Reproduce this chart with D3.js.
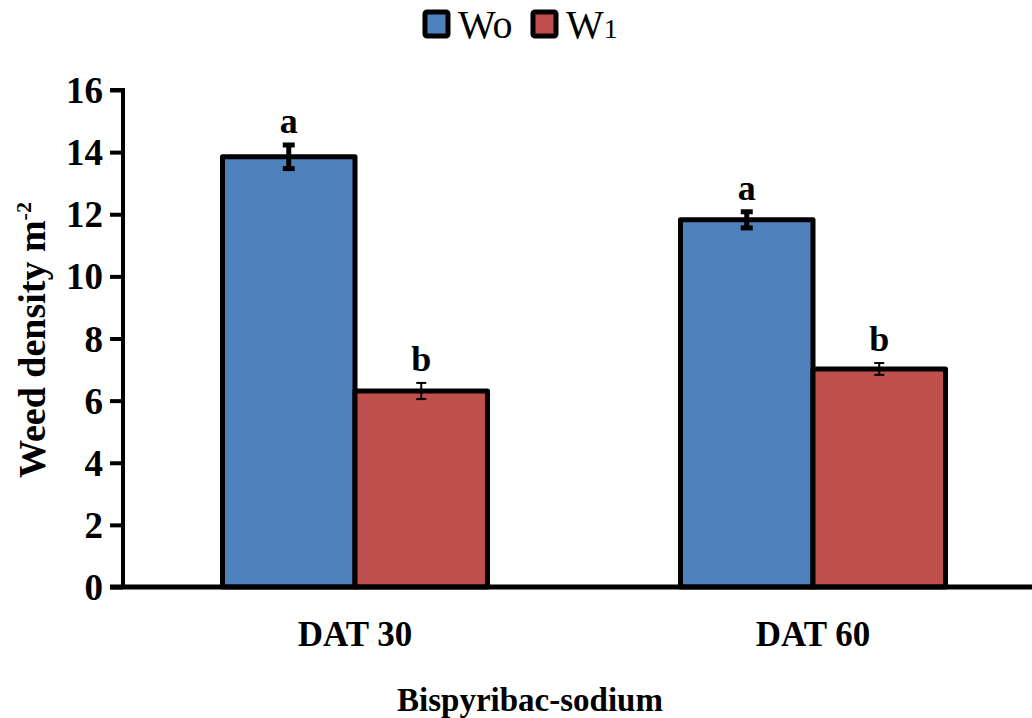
<!DOCTYPE html>
<html>
<head>
<meta charset="utf-8">
<script src="https://cdn.jsdelivr.net/npm/d3@7"></script>
<style>
  html, body { margin: 0; padding: 0; background: #fff; }
  svg { display: block; }
</style>
</head>
<body>
<svg id="chart" width="1032" height="718"></svg>
<script>
// Weed density per square metre under bispyribac-sodium, by days after transplanting
const categories = ["DAT 30", "DAT 60"];
const seriesNames = ["W0", "W1"];
const seriesLabels = [["W", "o"], ["W", "1"]];
const w0Values = [13.85, 11.82];
const w1Values = [6.31, 7.02];
const w0Errors = [0.38, 0.26];
const w1Errors = [0.26, 0.19];
const w0Letters = ["a", "a"];
const w1Letters = ["b", "b"];
const yTicks = [0, 2, 4, 6, 8, 10, 12, 14, 16];
const colors = ["#4f81bd", "#c0504d"];

const rows = categories.flatMap((c, i) => [
  { cat: c, s: seriesNames[0], v: w0Values[i], e: w0Errors[i], l: w0Letters[i], k: 0 },
  { cat: c, s: seriesNames[1], v: w1Values[i], e: w1Errors[i], l: w1Letters[i], k: 1 }
]);

const svg = d3.select("#chart");
const serif = "'Liberation Serif', 'Times New Roman', serif";

const x = d3.scaleBand().domain(categories).range([126, 1042]).paddingInner(0).paddingOuter(0);
const groupW = 265;
const xs = d3.scaleBand().domain(seriesNames).range([0, groupW]).padding(0);
const y = d3.scaleLinear().domain([0, 16]).range([587, 90]);

const barX = d => x(d.cat) + x.bandwidth() / 2 - groupW / 2 + xs(d.s);

// Bars
svg.append("g").selectAll("rect").data(rows).join("rect")
  .attr("x", d => barX(d))
  .attr("y", d => y(d.v))
  .attr("width", xs.bandwidth())
  .attr("height", d => y(0) - y(d.v))
  .attr("fill", d => colors[d.k])
  .attr("stroke", "#000")
  .attr("stroke-width", 5)
  .attr("stroke-linejoin", "round");

// Error bars
const eb = svg.append("g").selectAll("g").data(rows).join("g")
  .attr("stroke", "#000");
eb.append("line")
  .attr("x1", d => barX(d) + xs.bandwidth() / 2)
  .attr("x2", d => barX(d) + xs.bandwidth() / 2)
  .attr("y1", d => y(d.v + d.e))
  .attr("y2", d => y(d.v - d.e))
  .attr("stroke-width", d => d.k === 0 ? 5 : 2);
[1, -1].forEach(sign => {
  eb.append("line")
    .attr("x1", d => barX(d) + xs.bandwidth() / 2 - (d.k === 0 ? 6 : 5))
    .attr("x2", d => barX(d) + xs.bandwidth() / 2 + (d.k === 0 ? 6 : 5))
    .attr("y1", d => y(d.v + sign * d.e))
    .attr("y2", d => y(d.v + sign * d.e))
    .attr("stroke-width", d => d.k === 0 ? 5 : 2);
});

// Significance letters
svg.append("g").selectAll("text").data(rows).join("text")
  .attr("x", d => barX(d) + xs.bandwidth() / 2)
  .attr("y", d => y(d.v + d.e) - 12)
  .attr("text-anchor", "middle")
  .attr("font-family", serif)
  .attr("font-weight", "bold")
  .attr("font-size", 36)
  .text(d => d.l);

// Y axis
const yAxis = svg.append("g")
  .attr("transform", "translate(123,0)")
  .call(d3.axisLeft(y).tickValues(yTicks).tickSize(13).tickPadding(7).tickFormat(d3.format("d")));
yAxis.select(".domain").attr("stroke", "#000").attr("stroke-width", 4)
  .attr("d", `M-13,${y(16)}H0V${y(0)}`);
yAxis.selectAll(".tick line").attr("stroke", "#000").attr("stroke-width", 4);
yAxis.selectAll(".tick text")
  .attr("font-family", serif).attr("font-weight", "bold").attr("font-size", 37)
  .attr("fill", "#000").attr("dy", "0.34em");

// X axis baseline
svg.append("line")
  .attr("x1", 110).attr("x2", 1032)
  .attr("y1", y(0)).attr("y2", y(0))
  .attr("stroke", "#000").attr("stroke-width", 5);

// Category labels
svg.append("g").selectAll("text").data(categories).join("text")
  .attr("x", d => x(d) + x.bandwidth() / 2)
  .attr("y", 646)
  .attr("text-anchor", "middle")
  .attr("font-family", serif).attr("font-weight", "bold").attr("font-size", 35)
  .text(d => d);

// Axis titles
svg.append("text")
  .attr("x", 530).attr("y", 711)
  .attr("text-anchor", "middle")
  .attr("font-family", serif).attr("font-weight", "bold").attr("font-size", 33)
  .text("Bispyribac-sodium");

const yt = svg.append("text")
  .attr("transform", `translate(45,340) rotate(-90)`)
  .attr("text-anchor", "middle")
  .attr("font-family", serif).attr("font-weight", "bold").attr("font-size", 38);
yt.append("tspan").text("Weed density m");
yt.append("tspan").attr("font-size", 22).attr("dy", -14).text("-2");

// Legend
const legend = svg.append("g");
const legendX = [423, 531];
const suffixSize = [40, 28];
seriesNames.forEach((s, i) => {
  const g = legend.append("g").attr("transform", `translate(${legendX[i]},10)`);
  g.append("rect").attr("x", 2).attr("y", 2).attr("width", 23).attr("height", 24)
    .attr("rx", 2)
    .attr("fill", colors[i]).attr("stroke", "#000").attr("stroke-width", 5);
  const t = g.append("text").attr("x", 35).attr("y", 28)
    .attr("font-family", serif).attr("font-size", 40);
  t.append("tspan").text(seriesLabels[i][0]);
  t.append("tspan").attr("font-size", suffixSize[i]).text(seriesLabels[i][1]);
});
</script>
</body>
</html>
